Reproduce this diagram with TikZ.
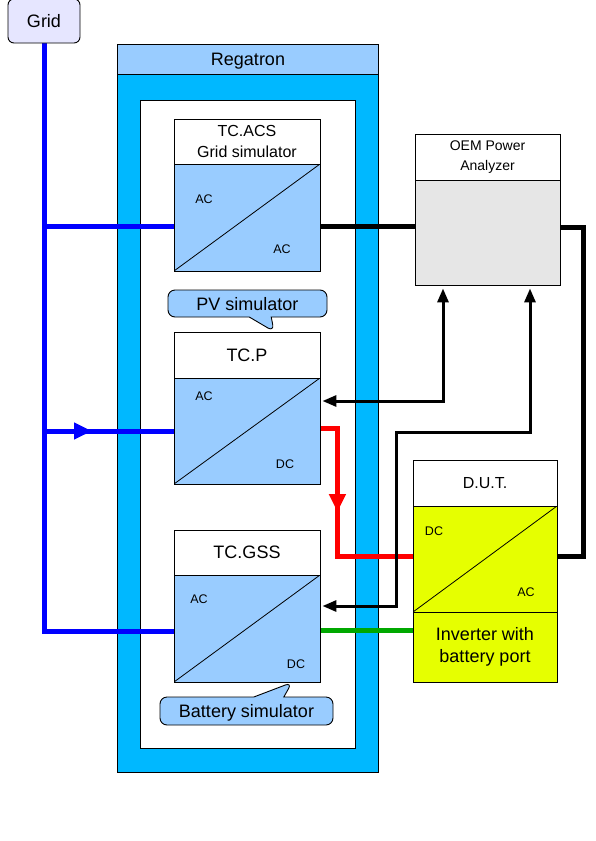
\documentclass[tikz,border=0pt]{standalone}
\usepackage{fontspec}
\setmainfont{Liberation Sans}
\usetikzlibrary{arrows.meta,shapes.callouts,decorations.markings}

\definecolor{gridfill}{HTML}{E6E6FF}
\definecolor{regablue}{HTML}{99CCFF}
\definecolor{framecyan}{HTML}{00B8FF}
\definecolor{oemgray}{HTML}{E6E6E6}
\definecolor{dutyellow}{HTML}{E6FF00}
\definecolor{busgreen}{HTML}{00A800}

\pgfdeclarelayer{back}
\pgfdeclarelayer{mid}
\pgfsetlayers{back,mid,main}

\tikzset{
  hdr/.style={draw,fill=white,minimum width=146pt,minimum height=45pt,inner sep=0pt,
    line width=0.9pt,align=center,font=\fontsize{18}{22}\selectfont},
  conv/.style={draw,fill=#1,minimum width=146pt,minimum height=107pt,inner sep=0pt,line width=0.9pt,
    path picture={\draw[line width=0.8pt] (path picture bounding box.south west) -- (path picture bounding box.north east);}},
  conv/.default=regablue,
  lbl/.style={font=\fontsize{12.5}{14}\selectfont},
  bubble/.style={rectangle callout,draw,fill=regablue,rounded corners=7pt,line width=0.9pt,
    inner sep=0pt,text depth=0pt,font=\fontsize{18}{22}\selectfont},
  bus/.style={line width=5pt},
  sig/.style={line width=3pt,{Triangle[length=14pt,width=11pt]}-{Triangle[length=14pt,width=11pt]}},
  bluearrow/.style={postaction={decorate},
    decoration={markings,mark=at position 48pt with {\arrow{Triangle[length=18pt,width=16pt]}}}},
  redarrow/.style={postaction={decorate},
    decoration={markings,mark=at position 101pt with {\arrow{Triangle[length=18pt,width=16pt]}}}}
}

\begin{document}
\begin{tikzpicture}[x=1pt,y=-1pt]
\useasboundingbox (0,0) rectangle (595,841);

% Regatron frame
\begin{pgfonlayer}{back}
\draw[line width=1pt,fill=framecyan] (117,44) rectangle (378,772);
\node[draw,fill=regablue,line width=1pt,anchor=north west,minimum width=261pt,minimum height=30pt,
  inner sep=0pt,text depth=0pt,font=\fontsize{18}{22}\selectfont] (rega) at (117,44) {Regatron};
\draw[line width=1pt,fill=white] (140,100) rectangle (355,748);
\end{pgfonlayer}

% grid source
\node[draw,fill=gridfill,rounded corners=6pt,minimum width=72pt,minimum height=44pt,line width=0.9pt,
  text depth=0pt,font=\fontsize{18}{22}\selectfont] (grid) at (44,21) {Grid};

% converters
\node[conv] (acsB) at (247,217.5) {};
\node[conv,minimum height=106pt] (tcpB) at (247,431) {};
\node[conv] (gssB) at (247,628.5) {};
\node[conv=oemgray,minimum width=145pt,minimum height=105pt,path picture={}] (oemB) at (487.5,232.5) {};
\node[conv=dutyellow,minimum width=144pt,minimum height=106pt] (dutB) at (485,559) {};

\node[hdr,font=\fontsize{16}{21}\selectfont] (acsH) at (247,141.5) {TC.ACS\\Grid simulator};
\node[hdr,minimum height=46pt] (tcpH) at (247,355) {TC.P};
\node[hdr] (gssH) at (247,552.5) {TC.GSS};
\node[hdr,minimum width=145pt,minimum height=46pt,font=\fontsize{14}{20}\selectfont] (oemH) at (487.5,157) {OEM Power\\Analyzer};
\node[hdr,minimum width=144pt,minimum height=46pt,font=\fontsize{16}{20}\selectfont] (dutH) at (485,483) {D.U.T.};
\node[hdr,fill=dutyellow,minimum width=144pt,minimum height=70pt] (dutL) at (485,647) {Inverter with\\battery port};

% AC/DC labels
\node[lbl] at (204,199) {AC};
\node[lbl] at (282,249) {AC};
\node[lbl] at (204,396) {AC};
\node[lbl] at (285,464) {DC};
\node[lbl] at (199,599) {AC};
\node[lbl] at (296,664) {DC};
\node[lbl] at (434,531) {DC};
\node[lbl] at (526,592) {AC};

% connection points
\coordinate (acsIn) at ([yshift=-8.5pt]acsB.west);
\coordinate (acsOut) at ([yshift=-8.5pt]acsB.east);
\coordinate (gssIn) at ([yshift=-2.5pt]gssB.west);
\coordinate (oemA) at ([xshift=-44.5pt,yshift=-3pt]oemB.south);
\coordinate (oemV) at ([xshift=42.5pt,yshift=-3pt]oemB.south);
\coordinate (tcpSig) at ([xshift=2pt,yshift=30pt]tcpB.east);
\coordinate (gssSig) at ([xshift=2pt,yshift=22.5pt]gssB.east);
\coordinate (jog) at (396,432);

% power lines
\begin{pgfonlayer}{mid}
\draw[bus,blue] (grid.south) |- (gssIn);
\draw[bus,blue] (grid.south |- acsIn) -- (acsIn);
\draw[bus,blue,bluearrow] (grid.south |- tcpB.west) -- (tcpB.west);
\draw[bus] (acsOut) -- (acsOut -| oemB.west);
\draw[bus] ([yshift=5.5pt]oemB.east) -- ++(23,0) |- ([yshift=3pt]dutB.east);
\draw[bus,red,redarrow] ([yshift=3pt]tcpB.east) -- ++(17,0) |- ([yshift=3pt]dutB.west);
\draw[bus,busgreen] ([yshift=-1.5pt]gssB.east) -- ([yshift=-1.5pt]gssB.east -| dutB.west);
\end{pgfonlayer}

% measurement lines
\draw[sig] (oemA) |- (tcpSig);
\draw[sig] (oemV) |- (jog) |- (gssSig);

% callouts
\node[bubble,minimum width=159pt,minimum height=27pt,callout pointer width=22pt,
  callout absolute pointer={([xshift=27pt]tcpH.north)}] (pvsim) at (247.5,303.5) {PV simulator};
\node[bubble,minimum width=173pt,minimum height=28pt,callout pointer width=30pt,
  callout absolute pointer={([xshift=45pt]gssB.south)}] (batsim) at (246.5,711) {Battery simulator};
\end{tikzpicture}
\end{document}
